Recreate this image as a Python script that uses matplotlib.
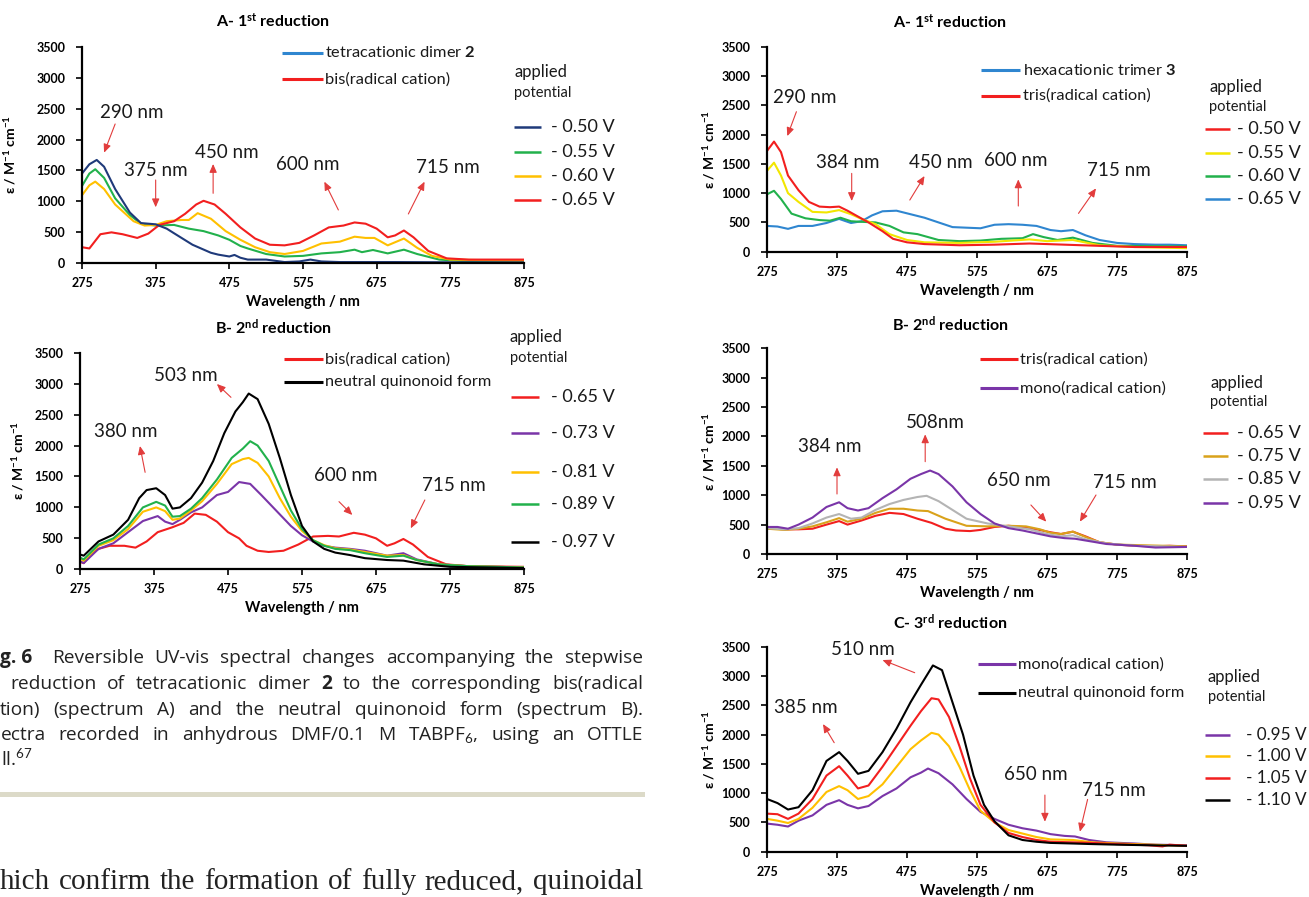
import matplotlib
matplotlib.use("Agg")
import matplotlib.pyplot as plt
from matplotlib.patches import Rectangle

W, H = 1309, 897
plt.rcParams['font.family'] = ['Lato', 'DejaVu Sans']
plt.rcParams['mathtext.fontset'] = 'custom'
plt.rcParams['mathtext.rm'] = 'Lato'
plt.rcParams['mathtext.it'] = 'Lato:italic'
plt.rcParams['mathtext.bf'] = 'Lato:bold'

# ---- data: dimer 2, 1st reduction (left A)
dA_050_x = [275, 285, 295, 305, 320, 340, 355, 375, 390, 400, 425, 450, 460, 475, 482, 490, 500, 525, 550, 570, 585, 600, 625, 700, 800, 875]
dA_050_y = [1450, 1600, 1670, 1560, 1200, 820, 650, 630, 560, 485, 300, 170, 140, 110, 135, 90, 60, 60, 20, 30, 60, 30, 20, 20, 15, 15]
dA_055_x = [275, 285, 293, 305, 320, 340, 355, 375, 400, 420, 440, 460, 475, 490, 500, 525, 550, 575, 600, 625, 645, 655, 670, 690, 712, 730, 760, 800, 875]
dA_055_y = [1250, 1450, 1520, 1380, 1050, 780, 640, 610, 620, 560, 520, 450, 380, 280, 240, 150, 110, 120, 160, 180, 220, 180, 215, 160, 220, 150, 60, 30, 30]
dA_060_x = [275, 285, 293, 305, 320, 345, 360, 375, 390, 410, 420, 432, 450, 470, 490, 510, 530, 550, 575, 600, 625, 645, 660, 672, 690, 712, 730, 750, 775, 875]
dA_060_y = [1100, 1260, 1320, 1200, 950, 680, 610, 620, 680, 700, 700, 810, 720, 520, 380, 260, 180, 150, 200, 320, 350, 430, 410, 410, 290, 400, 250, 120, 60, 40]
dA_065_x = [275, 285, 300, 315, 330, 350, 365, 380, 400, 415, 430, 440, 455, 470, 490, 510, 530, 550, 570, 590, 610, 630, 645, 660, 675, 690, 700, 712, 725, 745, 770, 800, 875]
dA_065_y = [260, 240, 470, 500, 470, 410, 480, 620, 680, 800, 950, 1010, 950, 800, 580, 400, 300, 290, 330, 450, 580, 610, 660, 640, 560, 420, 450, 530, 420, 200, 80, 60, 60]

# ---- dimer 2, 2nd reduction (left B)
dB_065_x = [275, 280, 290, 300, 315, 335, 350, 365, 380, 400, 415, 430, 445, 460, 475, 490, 500, 515, 530, 550, 570, 590, 610, 625, 645, 660, 675, 690, 700, 712, 725, 745, 770, 800, 875]
dB_065_y = [120, 100, 250, 330, 380, 380, 350, 450, 600, 680, 750, 900, 880, 770, 600, 500, 380, 300, 280, 300, 400, 530, 540, 530, 590, 560, 500, 380, 420, 490, 400, 200, 80, 50, 40]
dB_073_x = [275, 280, 300, 320, 340, 360, 380, 390, 400, 410, 425, 440, 460, 475, 490, 505, 520, 540, 560, 575, 590, 605, 620, 640, 660, 690, 712, 730, 760, 800, 875]
dB_073_y = [130, 100, 330, 420, 600, 780, 860, 770, 730, 800, 920, 1000, 1200, 1250, 1410, 1380, 1200, 950, 700, 550, 450, 380, 350, 330, 300, 220, 260, 160, 80, 50, 30]
dB_081_x = [275, 280, 300, 320, 340, 360, 378, 390, 400, 410, 425, 440, 460, 480, 495, 503, 515, 530, 545, 560, 575, 590, 605, 620, 640, 660, 690, 712, 730, 760, 800, 875]
dB_081_y = [170, 140, 380, 470, 650, 930, 1000, 940, 800, 820, 950, 1100, 1380, 1700, 1780, 1800, 1720, 1500, 1150, 850, 620, 470, 390, 340, 320, 280, 220, 230, 150, 80, 50, 30]
dB_089_x = [275, 280, 300, 320, 340, 360, 378, 390, 400, 410, 425, 440, 460, 480, 495, 505, 515, 530, 545, 560, 575, 590, 605, 620, 640, 660, 690, 712, 730, 760, 800, 875]
dB_089_y = [190, 160, 400, 500, 700, 1000, 1090, 1030, 850, 860, 980, 1150, 1450, 1800, 1950, 2070, 2000, 1750, 1350, 950, 650, 470, 380, 330, 310, 260, 200, 220, 150, 80, 50, 30]
dB_097_x = [275, 280, 300, 320, 340, 355, 365, 378, 390, 400, 410, 425, 440, 455, 470, 485, 495, 503, 515, 530, 545, 560, 575, 590, 605, 620, 640, 660, 690, 712, 740, 775, 875]
dB_097_y = [240, 220, 450, 560, 800, 1150, 1280, 1310, 1200, 980, 1000, 1150, 1400, 1750, 2200, 2550, 2700, 2840, 2750, 2350, 1800, 1200, 700, 450, 330, 270, 230, 180, 150, 140, 80, 40, 20]

# ---- trimer 3, 1st reduction (right A)
tA_050_x = [275, 285, 295, 305, 320, 335, 350, 365, 378, 390, 405, 420, 440, 455, 475, 500, 550, 600, 650, 700, 750, 800, 875]
tA_050_y = [1720, 1880, 1700, 1300, 1050, 850, 770, 760, 770, 700, 600, 500, 350, 220, 160, 130, 110, 120, 140, 120, 100, 80, 80]
tA_055_x = [275, 285, 295, 305, 320, 340, 360, 378, 395, 410, 430, 450, 475, 500, 550, 600, 650, 675, 712, 750, 800, 875]
tA_055_y = [1380, 1520, 1300, 1000, 850, 680, 670, 710, 640, 560, 470, 300, 200, 160, 150, 170, 210, 180, 200, 110, 80, 60]
tA_060_x = [275, 285, 295, 310, 330, 350, 365, 380, 395, 410, 430, 450, 470, 490, 520, 550, 580, 610, 640, 655, 670, 690, 712, 740, 775, 875]
tA_060_y = [980, 1040, 900, 650, 570, 540, 530, 580, 520, 510, 500, 440, 330, 300, 200, 180, 190, 220, 230, 300, 250, 200, 240, 150, 100, 90]
tA_065_x = [275, 290, 305, 320, 340, 360, 378, 395, 410, 425, 440, 460, 480, 500, 520, 540, 560, 580, 600, 620, 640, 660, 680, 695, 712, 730, 750, 775, 800, 830, 850, 875]
tA_065_y = [440, 430, 390, 440, 440, 490, 560, 490, 520, 620, 690, 700, 640, 580, 500, 420, 410, 400, 460, 470, 460, 440, 370, 350, 370, 280, 200, 150, 130, 120, 120, 110]

# ---- trimer 3, 2nd reduction (right B)
tB_065_x = [275, 300, 320, 340, 360, 378, 390, 410, 430, 450, 470, 490, 510, 530, 545, 565, 580, 600, 620, 640, 660, 680, 695, 712, 730, 750, 775, 800, 830, 850, 875]
tB_065_y = [440, 420, 420, 430, 500, 560, 500, 570, 650, 700, 680, 600, 530, 430, 400, 390, 410, 460, 480, 460, 420, 370, 340, 380, 300, 200, 160, 140, 130, 140, 130]
tB_075_x = [275, 300, 320, 340, 360, 378, 390, 410, 430, 450, 470, 490, 505, 530, 560, 590, 620, 645, 665, 680, 695, 712, 730, 750, 775, 875]
tB_075_y = [430, 410, 430, 470, 540, 610, 550, 600, 700, 770, 770, 740, 730, 600, 480, 470, 480, 470, 420, 360, 340, 380, 290, 200, 160, 130]
tB_085_x = [275, 300, 320, 340, 360, 378, 395, 410, 430, 450, 470, 490, 503, 520, 540, 560, 590, 620, 650, 675, 695, 712, 730, 760, 800, 875]
tB_085_y = [440, 420, 440, 520, 620, 680, 600, 620, 750, 850, 920, 970, 990, 900, 750, 600, 520, 470, 420, 340, 300, 320, 250, 180, 140, 120]
tB_095_x = [275, 290, 305, 320, 340, 360, 378, 390, 405, 420, 440, 460, 480, 495, 508, 520, 540, 560, 580, 600, 620, 640, 660, 680, 700, 715, 735, 760, 800, 830, 875]
tB_095_y = [460, 460, 430, 500, 620, 800, 880, 780, 740, 780, 950, 1100, 1280, 1360, 1420, 1360, 1150, 880, 680, 520, 440, 400, 350, 300, 270, 260, 220, 170, 140, 110, 120]

# ---- trimer 3, 3rd reduction (right C)
tC_095_x = [275, 290, 305, 320, 340, 360, 378, 390, 405, 420, 440, 460, 480, 495, 505, 520, 540, 560, 580, 600, 620, 640, 660, 680, 700, 715, 735, 760, 800, 830, 875]
tC_095_y = [480, 460, 430, 530, 620, 800, 880, 800, 740, 780, 950, 1080, 1270, 1350, 1420, 1340, 1150, 900, 680, 560, 460, 400, 360, 300, 270, 260, 200, 160, 140, 120, 110]
tC_100_x = [275, 290, 305, 320, 340, 360, 378, 390, 405, 420, 440, 460, 480, 495, 510, 520, 535, 550, 565, 580, 600, 620, 640, 660, 680, 712, 740, 775, 875]
tC_100_y = [560, 530, 490, 560, 750, 1020, 1120, 1050, 900, 950, 1150, 1450, 1750, 1900, 2030, 2000, 1800, 1450, 1050, 700, 500, 370, 310, 250, 210, 200, 160, 140, 100]
tC_105_x = [275, 290, 305, 320, 340, 360, 378, 390, 405, 420, 440, 460, 480, 495, 510, 520, 535, 550, 565, 580, 600, 620, 640, 660, 680, 712, 740, 775, 820, 840, 850, 875]
tC_105_y = [650, 640, 560, 650, 900, 1300, 1460, 1300, 1080, 1130, 1450, 1800, 2150, 2400, 2620, 2600, 2300, 1800, 1250, 800, 500, 320, 250, 200, 170, 160, 150, 130, 110, 90, 120, 100]
tC_110_x = [275, 290, 305, 320, 340, 360, 378, 390, 405, 420, 440, 460, 480, 495, 512, 525, 540, 555, 570, 585, 600, 620, 640, 660, 680, 712, 740, 775, 820, 875]
tC_110_y = [900, 830, 720, 760, 1050, 1550, 1700, 1550, 1330, 1380, 1700, 2100, 2550, 2850, 3180, 3100, 2550, 2000, 1300, 800, 520, 280, 200, 170, 150, 140, 130, 120, 110, 100]

NAVY, GREEN, GOLD, RED = '#1f3a7a', '#22b14c', '#ffc000', '#f21f1f'
BLUE, YELLOW, PURPLE, AMBER, GREY = '#2f86d0', '#f2e600', '#7a35a8', '#d9a21b', '#b4b4b4'
ARROW = '#e23c3c'

fig = plt.figure(figsize=(W / 100, H / 100), dpi=100)
fig.patch.set_facecolor('white')


def make_ax(x0, x1, ytop, ybot, ylab_x):
    ax = fig.add_axes([x0 / W, 1 - ybot / H, (x1 - x0) / W, (ybot - ytop) / H])
    ax.set_xlim(275, 875)
    ax.set_ylim(0, 3500)
    ax.set_xticks(range(275, 876, 100))
    ax.set_yticks(range(0, 3501, 500))
    for s in ['top', 'right']:
        ax.spines[s].set_visible(False)
    for s in ['left', 'bottom']:
        ax.spines[s].set_linewidth(1.6)
    ax.tick_params(direction='out', length=4, width=1.2, labelsize=9)
    ax.tick_params(axis='x', pad=6)
    ax.tick_params(axis='y', pad=8)
    for lbl in ax.get_xticklabels() + ax.get_yticklabels():
        lbl.set_fontweight('bold')
    ax.set_xlabel('Wavelength / nm', fontsize=10.5, fontweight='bold')
    ax.xaxis.set_label_coords(0.5, -32 / (ybot - ytop))
    ax.set_ylabel(r'ε / M$^{\mathbf{-1}}$ cm$^{\mathbf{-1}}$', fontsize=10, fontweight='bold')
    ax.yaxis.set_label_coords((ylab_x - x0) / (x1 - x0), 0.5)
    return ax


def curve(ax, x, y, color):
    ax.plot(x, y, color=color, lw=1.5, solid_joinstyle='round')


def label(ax, txt, tx, ty, tail, head):
    ax.text(tx, ty, txt, fontsize=13.5, ha='center', va='center', color='#1a1a1a')
    ax.annotate('', xy=head, xytext=tail,
                arrowprops=dict(arrowstyle='-|>,head_length=0.5,head_width=0.22',
                                color=ARROW, lw=0.8, shrinkA=0, shrinkB=0))


def key(ax, x0, x1, xt, y, color, txt, size, lw=2.2):
    ax.plot([x0, x1], [y, y], color=color, lw=lw, clip_on=False, solid_capstyle='butt')
    ax.text(xt, y, txt, fontsize=size, va='center', ha='left', color='#1a1a1a', clip_on=False)


def applied(ax, x, y1, y2):
    ax.text(x, y1, 'applied', fontsize=12, va='center', ha='left', color='#1a1a1a')
    ax.text(x, y2, 'potential', fontsize=10.5, va='center', ha='left', color='#1a1a1a')


def title(x, y, txt):
    fig.text(x / W, 1 - y / H, txt, fontsize=11.5, fontweight='bold', ha='center', va='center')


LS = 11.8   # legend text size
PS = 13     # potential labels size

# ---------------- left A
ax = make_ax(82, 524, 46.7, 263.3, 18)
title(273, 21, r'A- 1$^{\mathbf{st}}$ reduction')
curve(ax, dA_055_x, dA_055_y, GREEN)
curve(ax, dA_060_x, dA_060_y, GOLD)
curve(ax, dA_065_x, dA_065_y, RED)
curve(ax, dA_050_x, dA_050_y, NAVY)
label(ax, '290 nm', 342, 2434, (320, 2251), (305, 1788))
label(ax, '375 nm', 375, 1497, (375, 1346), (375, 905))
label(ax, '450 nm', 472, 1788, (453, 1131), (453, 1605))
label(ax, '600 nm', 582, 1589, (623, 862), (604, 1319))
label(ax, '715 nm', 771, 1545, (718, 797), (740, 1319))
key(ax, 546, 602, 605, 3403, BLUE, r'tetracationic dimer $\mathbf{2}$', LS)
key(ax, 546, 602, 605, 2973, RED, 'bis(radical cation)', LS)
applied(ax, 862, 3096, 2757)
for lab, c, yy in zip(['- 0.50 V', '- 0.55 V', '- 0.60 V', '- 0.65 V'],
                      [NAVY, GREEN, GOLD, RED], [2208, 1804, 1416, 1023]):
    key(ax, 862, 898, 912, yy, c, lab, PS, lw=1.8)

# ---------------- left B
ax = make_ax(80, 524, 352.7, 569.3, 26)
title(273, 327, r'B- 2$^{\mathbf{nd}}$ reduction')
curve(ax, dB_065_x, dB_065_y, RED)
curve(ax, dB_073_x, dB_073_y, PURPLE)
curve(ax, dB_081_x, dB_081_y, GOLD)
curve(ax, dB_089_x, dB_089_y, GREEN)
curve(ax, dB_097_x, dB_097_y, 'black')
label(ax, '503 nm', 418, 3139, (479, 2779), (460, 2994))
label(ax, '380 nm', 337, 2224, (363, 1567), (356, 1992))
label(ax, '600 nm', 634, 1513, (625, 1093), (643, 878))
label(ax, '715 nm', 780, 1352, (741, 1120), (722, 662))
key(ax, 550, 603, 606, 3393, RED, 'bis(radical cation)', LS)
key(ax, 550, 603, 606, 3032, 'black', 'neutral quinonoid form', LS)
applied(ax, 856, 3759, 3419)
for lab, c, yy in zip(['- 0.65 V', '- 0.73 V', '- 0.81 V', '- 0.89 V', '- 0.97 V'],
                      [RED, PURPLE, GOLD, GREEN, 'black'], [2779, 2197, 1567, 1050, 436]):
    key(ax, 858, 895, 912, yy, c, lab, PS, lw=1.8)

# ---------------- right A
ax = make_ax(767, 1187, 46.7, 251.7, 717)
title(950, 22, r'A- 1$^{\mathbf{st}}$ reduction')
curve(ax, tA_065_x, tA_065_y, BLUE)
curve(ax, tA_060_x, tA_060_y, GREEN)
curve(ax, tA_055_x, tA_055_y, YELLOW)
curve(ax, tA_050_x, tA_050_y, RED)
label(ax, '290 nm', 329, 2634, (317, 2390), (304, 1974))
label(ax, '384 nm', 390, 1519, (396, 1337), (396, 865))
label(ax, '450 nm', 523, 1519, (479, 882), (500, 1292))
label(ax, '600 nm', 631, 1565, (634, 780), (634, 1235))
label(ax, '715 nm', 777, 1383, (720, 654), (745, 1081))
key(ax, 581, 636, 641, 3101, BLUE, r'hexacationic trimer $\mathbf{3}$', LS)
key(ax, 581, 636, 641, 2663, RED, 'tris(radical cation)', LS)
applied(ax, 907, 2805, 2475)
for lab, c, yy in zip(['- 0.50 V', '- 0.55 V', '- 0.60 V', '- 0.65 V'],
                      [RED, YELLOW, GREEN, BLUE], [2088, 1690, 1292, 893]):
    key(ax, 901, 936, 946, yy, c, lab, PS, lw=1.8)

# ---------------- right B
ax = make_ax(767, 1187, 348.3, 554, 717)
title(950, 324, r'B- 2$^{\mathbf{nd}}$ reduction')
curve(ax, tB_065_x, tB_065_y, RED)
curve(ax, tB_075_x, tB_075_y, AMBER)
curve(ax, tB_085_x, tB_085_y, GREY)
curve(ax, tB_095_x, tB_095_y, PURPLE)
label(ax, '384 nm', 364, 1826, (375, 1021), (375, 1474))
label(ax, '508nm', 515, 2239, (501, 1571), (501, 2036))
label(ax, '650 nm', 635, 1247, (652, 834), (674, 550))
label(ax, '715 nm', 786, 1213, (745, 1004), (722, 550))
key(ax, 579, 633, 637, 3317, RED, 'tris(radical cation)', LS)
key(ax, 579, 633, 637, 2818, PURPLE, 'mono(radical cation)', LS)
applied(ax, 908, 2914, 2580)
for lab, c, yy in zip(['- 0.65 V', '- 0.75 V', '- 0.85 V', '- 0.95 V'],
                      [RED, AMBER, GREY, PURPLE], [2064, 1667, 1270, 873]):
    key(ax, 898, 934, 946, yy, c, lab, PS, lw=1.8)

# ---------------- right C
ax = make_ax(767, 1187, 646.7, 851.7, 717)
title(950, 622, r'C- 3$^{\mathbf{rd}}$ reduction')
curve(ax, tC_095_x, tC_095_y, PURPLE)
curve(ax, tC_100_x, tC_100_y, GOLD)
curve(ax, tC_105_x, tC_105_y, RED)
curve(ax, tC_110_x, tC_110_y, 'black')
label(ax, '510 nm', 412, 3454, (486, 3056), (440, 3272))
label(ax, '385 nm', 330, 2464, (371, 1861), (355, 2179))
label(ax, '650 nm', 659, 1326, (672, 967), (672, 512))
label(ax, '715 nm', 770, 1053, (733, 893), (722, 341))
key(ax, 576, 630, 634, 3198, PURPLE, 'mono(radical cation)', LS)
key(ax, 576, 630, 634, 2703, 'black', 'neutral quinonoid form', LS)
applied(ax, 905, 2987, 2646)
for lab, c, yy in zip(['- 0.95 V', '- 1.00 V', '- 1.05 V', '- 1.10 V'],
                      [PURPLE, GOLD, RED, 'black'], [1992, 1633, 1252, 882]):
    key(ax, 900, 937, 959, yy, c, lab, 12.3, lw=1.8)

# ---------------- caption (justified lines)
renderer = fig.canvas.get_renderer()


def justify(words, x0, x1, y, size, family):
    texts = []
    for w, wt in words:
        texts.append(fig.text(0, 1 - y / H, w, fontsize=size, family=family,
                              fontweight=wt, va='center', ha='left', color='#222222'))
    widths = [t.get_window_extent(renderer).width for t in texts]
    gap = (x1 - x0 - sum(widths)) / max(len(texts) - 1, 1)
    x = x0
    for t, w in zip(texts, widths):
        t.set_x(x / W)
        x += w + gap


def plain(s, bold_words=()):
    return [(w, 'bold' if w in bold_words else 'normal') for w in s.split(' ')]


CAP = ['Open Sans', 'DejaVu Sans']
CS = 13.8
fig.text(0, 1 - 658 / H, 'g. 6', fontsize=CS, family=CAP, fontweight='bold', va='center', color='#222222')
justify(plain('Reversible UV-vis spectral changes accompanying the stepwise'), 52, 643, 658, CS, CAP)
justify(plain('reduction of tetracationic dimer 2 to the corresponding bis(radical', ('2',)), 10, 643, 684, CS, CAP)
justify(plain('tion) (spectrum A) and the neutral quinonoid form (spectrum B).'), 0, 643, 710, CS, CAP)
justify(plain('ectra recorded in anhydrous DMF/0.1 M TABPF$_6$, using an OTTLE'), 1, 643, 735, CS, CAP)
fig.text(1 / W, 1 - 759 / H, 'll.$^{67}$', fontsize=CS, family=CAP, va='center', color='#222222')

fig.add_artist(Rectangle((0, 1 - 797 / H), 645 / W, 5 / H, transform=fig.transFigure,
                         facecolor='#dcdac8', edgecolor='none'))
justify(plain('hich confirm the formation of fully reduced, quinoidal'), 0, 643, 882, 21,
        ['Liberation Serif', 'DejaVu Serif'])

fig.savefig('out.png', dpi=100, facecolor='white')
